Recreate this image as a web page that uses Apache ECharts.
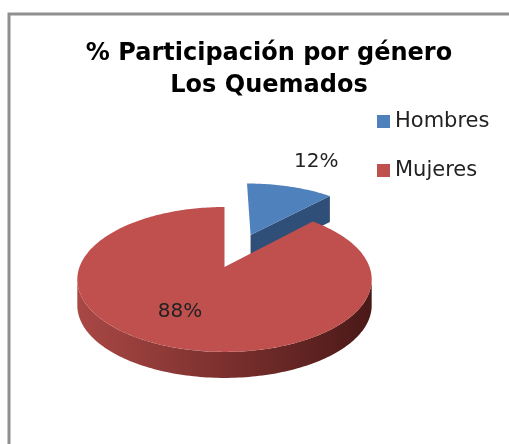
<!DOCTYPE html>
<html>
<head>
<meta charset="utf-8">
<script src="https://cdn.jsdelivr.net/npm/echarts@6/dist/echarts.min.js"></script>
<style>
  html, body { margin: 0; padding: 0; background: #fff; }
  #chart { width: 509px; height: 444px; }
</style>
</head>
<body>
<div id="chart"></div>
<script>
// datos
let categories = ['Hombres', 'Mujeres'];
let values = [12, 88];
let pctLabels = ['12%', '88%'];

// estilo del pastel 3D
let topColors = ['#4F81BD', '#C0504D'];
let faceColors = ['#2F4F78', '#7A2E2C'];
let wallStops = [
    [{offset: 0, color: '#3F6494'}, {offset: 1, color: '#1F3657'}],
    [{offset: 0, color: '#A94845'}, {offset: 0.5, color: '#7B302E'}, {offset: 1, color: '#4A1918'}]
];
let cx = 224.5, cy = 267, rx = 145, ry = 70.3, persp = 0.172, depth = 26;
let explode = [0.53, 0];   // separacion de cada porcion, en radios
let labelFrac = [[1.66, 1.51], [0.70, 0.58]];

let total = values.reduce(function (a, b) { return a + b; }, 0);

// proyeccion simple con perspectiva: X a la derecha, Z hacia el fondo
function proj(X, Z, dz) {
    let s = 1 / (1 + persp * Z);
    return [cx + rx * X * s, cy - ry * Z * s + dz];
}
function arc(t0, t1, ex, ez, dz) {
    let pts = [];
    let n = Math.max(2, Math.ceil(Math.abs(t1 - t0) / 0.02));
    for (let k = 0; k <= n; k++) {
        let t = t0 + (t1 - t0) * k / n;
        pts.push(proj(Math.sin(t) + ex, Math.cos(t) + ez, dz));
    }
    return pts;
}

function renderSlice(i) {
    return function (params, api) {
        let before = 0;
        for (let j = 0; j < i; j++) before += values[j];
        let start = before / total * Math.PI * 2;
        let end = (before + api.value(0)) / total * Math.PI * 2;
        let mid = (start + end) / 2;
        let ex = explode[i] * Math.sin(mid), ez = explode[i] * Math.cos(mid);
        let apex = proj(ex, ez, 0);
        let children = [];

        // pared exterior (parte frontal, entre los puntos de silueta)
        let sil = Math.acos(-persp);
        let w0 = Math.max(start, sil), w1 = Math.min(end, Math.PI * 2 - sil);
        if (w1 > w0) {
            let topArc = arc(w0, w1, ex, ez, 0);
            let botArc = arc(w0, w1, ex, ez, depth).reverse();
            children.push({
                type: 'polygon',
                shape: {points: topArc.concat(botArc)},
                style: {fill: new echarts.graphic.LinearGradient(0, 0, 1, 0, wallStops[i])}
            });
        }
        // caras radiales visibles
        let faces = [];
        if (end % (Math.PI * 2) > 0.01 && end % (Math.PI * 2) < Math.PI) faces.push(end);
        if (start > Math.PI && start < Math.PI * 2) faces.push(start);
        faces.forEach(function (t) {
            let o = proj(Math.sin(t) + ex, Math.cos(t) + ez, 0);
            children.push({
                type: 'polygon',
                shape: {points: [apex, o, [o[0], o[1] + depth], [apex[0], apex[1] + depth]]},
                style: {fill: faceColors[i]}
            });
        });
        // cara superior
        children.push({
            type: 'polygon',
            shape: {points: [apex].concat(arc(start, end, ex, ez, 0))},
            style: {fill: topColors[i]}
        });
        // etiqueta
        let m = proj(Math.sin(mid) + ex, Math.cos(mid) + ez, 0);
        children.push({
            type: 'text',
            x: apex[0] + (m[0] - apex[0]) * labelFrac[i][0],
            y: apex[1] + (m[1] - apex[1]) * labelFrac[i][1],
            style: {
                text: pctLabels[i],
                fill: '#222',
                font: '20px "DejaVu Sans"',
                align: 'center',
                verticalAlign: 'middle'
            }
        });
        return {type: 'group', children: children};
    };
}

let chart = echarts.init(document.getElementById('chart'));

chart.setOption({
    animation: false,
    title: {
        text: '% Participación por género\nLos Quemados',
        left: 264,
        top: 33,
        textAlign: 'center',
        textStyle: {
            fontFamily: 'DejaVu Sans',
            fontWeight: 'bold',
            fontSize: 24,
            lineHeight: 32,
            color: '#000'
        }
    },
    legend: {
        data: categories,
        orient: 'vertical',
        left: 372,
        top: 106,
        icon: 'rect',
        itemWidth: 13,
        itemHeight: 13,
        itemGap: 28,
        textStyle: {fontFamily: 'DejaVu Sans', fontSize: 21, lineHeight: 21, color: '#222'}
    },
    graphic: [{
        type: 'rect',
        shape: {x: 9, y: 14, width: 600, height: 500},
        style: {fill: 'none', stroke: '#909090', lineWidth: 3},
        silent: true
    }],
    series: categories.map(function (name, i) {
        return {
            name: name,
            type: 'custom',
            coordinateSystem: 'none',
            itemStyle: {color: topColors[i]},
            renderItem: renderSlice(i),
            data: [[values[i]]]
        };
    })
});
</script>
</body>
</html>
